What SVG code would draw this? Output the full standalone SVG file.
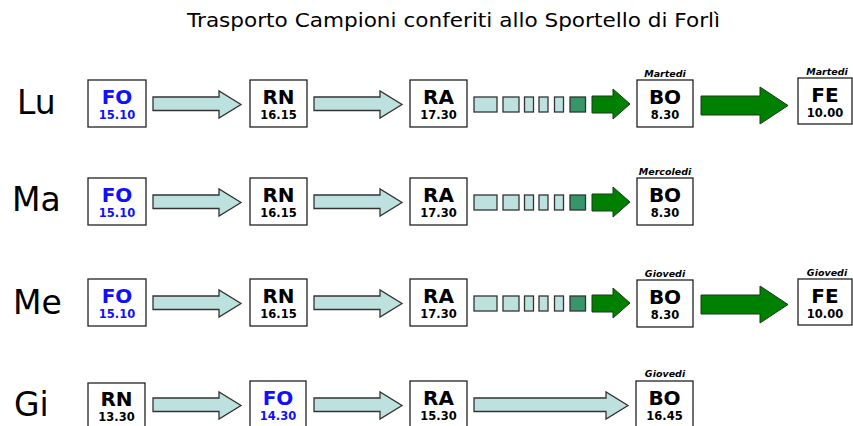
<svg xmlns="http://www.w3.org/2000/svg" xmlns:xlink="http://www.w3.org/1999/xlink" width="853" height="426" viewBox="0 0 853 426">
<style>
.title{font-family:"DejaVu Sans","Noto Sans",sans-serif;font-size:20px;fill:#000}
.day{font-family:"DejaVu Sans","Noto Sans",sans-serif;font-size:33px;fill:#000}
.box{fill:#fff;stroke:#222;stroke-width:1.3}
.code{font-family:"DejaVu Sans","Noto Sans",sans-serif;font-size:20px;font-weight:bold;fill:#000;text-anchor:middle}
.time{font-family:"DejaVu Sans","Noto Sans",sans-serif;font-size:11.5px;font-weight:bold;fill:#000;text-anchor:middle}
.blue{fill:#1010ff}
.wd{font-family:"DejaVu Sans","Noto Sans",sans-serif;font-size:9.5px;font-weight:bold;font-style:italic;fill:#000;text-anchor:middle}
.cy{fill:#bde1df;stroke:#333;stroke-width:1.3}
.gr{fill:#008000;stroke:#1a3a1a;stroke-width:1}
.sq{fill:#bde1df;stroke:#333;stroke-width:1.3}
.sqd{fill:#37956a;stroke:#333;stroke-width:1.3}
</style>
<defs>
<path id="cyanArrow" class="cy" d="M0,17 H66 V11 L88,24.5 L66,38 V30.5 H0 Z"/>
<path id="longArrow" class="cy" d="M0,17 H132 V11 L154,24.5 L132,38 V30.5 H0 Z"/>
<path id="greenSmall" class="gr" d="M0,16 H21 V9 L38,24 L21,39 V33 H0 Z"/>
<path id="greenBig" class="gr" d="M0,16 H59 V7 L87,25.5 L59,44 V35 H0 Z"/>
<g id="squares">
<rect class="sq" x="474" y="17" width="23" height="15"/>
<rect class="sq" x="503" y="17" width="16" height="15"/>
<rect class="sq" x="524.5" y="17" width="9" height="15"/>
<rect class="sq" x="539" y="17" width="9" height="15"/>
<rect class="sq" x="554.5" y="17" width="9" height="15"/>
<rect class="sqd" x="570" y="17" width="15.5" height="15"/>
</g>
</defs>
<rect width="853" height="426" fill="#fff"/>
<text class="title" x="187" y="27" textLength="533" lengthAdjust="spacingAndGlyphs">Trasporto Campioni conferiti allo Sportello di Forlì</text>

<g id="days">
<text class="day" x="17" y="114">Lu</text>
<text class="day" x="12" y="211">Ma</text>
<text class="day" x="13" y="314">Me</text>
<text class="day" x="14" y="416">Gi</text>
</g>

<g id="connectors">
<use xlink:href="#cyanArrow" x="153" y="80"/>
<use xlink:href="#cyanArrow" x="314" y="80"/>
<use xlink:href="#squares" x="0" y="80"/>
<use xlink:href="#greenSmall" x="592" y="80"/>
<use xlink:href="#greenBig" x="701" y="80"/>

<use xlink:href="#cyanArrow" x="153" y="178"/>
<use xlink:href="#cyanArrow" x="314" y="178"/>
<use xlink:href="#squares" x="0" y="178"/>
<use xlink:href="#greenSmall" x="592" y="178"/>

<use xlink:href="#cyanArrow" x="153" y="279"/>
<use xlink:href="#cyanArrow" x="314" y="279"/>
<use xlink:href="#squares" x="0" y="279"/>
<use xlink:href="#greenSmall" x="592" y="279"/>
<use xlink:href="#greenBig" x="701" y="279"/>

<use xlink:href="#cyanArrow" x="153" y="381"/>
<use xlink:href="#cyanArrow" x="314" y="381"/>
<use xlink:href="#longArrow" x="474" y="381"/>
</g>

<!-- Row Lu -->
<g id="lu-fo"><rect class="box" x="88" y="80" width="58" height="47"/><text class="code blue" x="117" y="104">FO</text><text class="time blue" x="117" y="119">15.10</text></g>
<g id="lu-rn"><rect class="box" x="250" y="80" width="57" height="47"/><text class="code" x="278.5" y="104">RN</text><text class="time" x="278.5" y="119">16.15</text></g>
<g id="lu-ra"><rect class="box" x="410" y="80" width="57" height="47"/><text class="code" x="438.5" y="104">RA</text><text class="time" x="438.5" y="119">17.30</text></g>
<g id="lu-bo"><text class="wd" x="665" y="77">Martedi</text><rect class="box" x="637" y="80" width="56" height="47"/><text class="code" x="665" y="104">BO</text><text class="time" x="665" y="119">8.30</text></g>
<g id="lu-fe"><text class="wd" x="827" y="75">Martedi</text><rect class="box" x="798" y="78" width="54" height="46"/><text class="code" x="825" y="102">FE</text><text class="time" x="825" y="117">10.00</text></g>

<!-- Row Ma -->
<g id="ma-fo"><rect class="box" x="88" y="178" width="58" height="47"/><text class="code blue" x="117" y="202">FO</text><text class="time blue" x="117" y="217">15.10</text></g>
<g id="ma-rn"><rect class="box" x="250" y="178" width="57" height="47"/><text class="code" x="278.5" y="202">RN</text><text class="time" x="278.5" y="217">16.15</text></g>
<g id="ma-ra"><rect class="box" x="410" y="178" width="57" height="47"/><text class="code" x="438.5" y="202">RA</text><text class="time" x="438.5" y="217">17.30</text></g>
<g id="ma-bo"><text class="wd" x="665" y="175">Mercoledi</text><rect class="box" x="637" y="178" width="56" height="47"/><text class="code" x="665" y="202">BO</text><text class="time" x="665" y="217">8.30</text></g>

<!-- Row Me -->
<g id="me-fo"><rect class="box" x="88" y="279" width="58" height="47"/><text class="code blue" x="117" y="303">FO</text><text class="time blue" x="117" y="318">15.10</text></g>
<g id="me-rn"><rect class="box" x="250" y="279" width="57" height="47"/><text class="code" x="278.5" y="303">RN</text><text class="time" x="278.5" y="318">16.15</text></g>
<g id="me-ra"><rect class="box" x="410" y="279" width="57" height="47"/><text class="code" x="438.5" y="303">RA</text><text class="time" x="438.5" y="318">17.30</text></g>
<g id="me-bo"><text class="wd" x="665" y="277">Giovedi</text><rect class="box" x="637" y="280" width="56" height="47"/><text class="code" x="665" y="304">BO</text><text class="time" x="665" y="319">8.30</text></g>
<g id="me-fe"><text class="wd" x="827" y="276">Giovedi</text><rect class="box" x="798" y="279" width="54" height="46"/><text class="code" x="825" y="303">FE</text><text class="time" x="825" y="318">10.00</text></g>

<!-- Row Gi -->
<g id="gi-rn"><rect class="box" x="88" y="383" width="57" height="47"/><text class="code" x="116.5" y="406">RN</text><text class="time" x="116.5" y="421">13.30</text></g>
<g id="gi-fo"><rect class="box" x="250" y="381" width="56" height="47"/><text class="code blue" x="278" y="405">FO</text><text class="time blue" x="278" y="420">14.30</text></g>
<g id="gi-ra"><rect class="box" x="410" y="381" width="57" height="47"/><text class="code" x="438.5" y="405">RA</text><text class="time" x="438.5" y="420">15.30</text></g>
<g id="gi-bo"><text class="wd" x="665" y="377">Giovedi</text><rect class="box" x="636" y="381" width="57" height="47"/><text class="code" x="664.5" y="405">BO</text><text class="time" x="664.5" y="420">16.45</text></g>
</svg>
